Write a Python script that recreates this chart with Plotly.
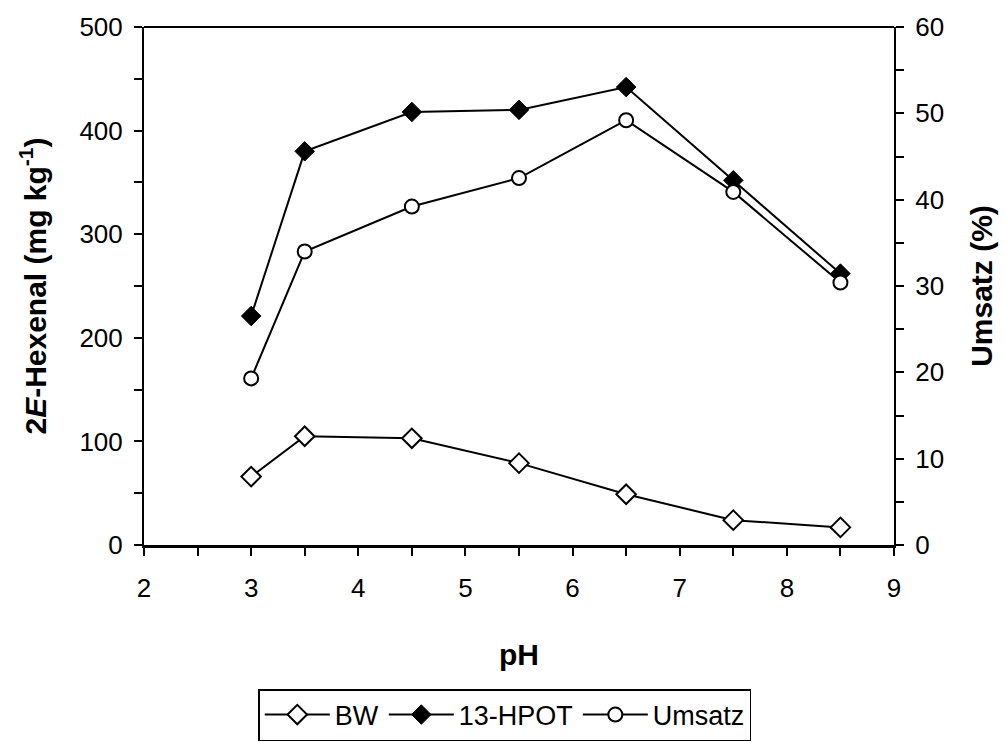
import plotly.graph_objects as go

ph = [3, 3.5, 4.5, 5.5, 6.5, 7.5, 8.5]
bw = [66, 105, 103, 79, 49, 24, 17]
hpot = [221, 380, 418, 420, 442, 352, 262]
umsatz = [19.3, 34.0, 39.2, 42.5, 49.2, 40.9, 30.4]

FONT = "Liberation Sans, Arial, sans-serif"

fig = go.Figure()
fig.add_trace(go.Scatter(
    x=ph, y=bw, name="BW", mode="lines+markers",
    line=dict(color="black", width=2),
    marker=dict(symbol="diamond", size=15, color="white", line=dict(color="black", width=2)),
))
fig.add_trace(go.Scatter(
    x=ph, y=hpot, name="13-HPOT", mode="lines+markers",
    line=dict(color="black", width=2),
    marker=dict(symbol="diamond", size=15, color="black", line=dict(color="black", width=1)),
))
fig.add_trace(go.Scatter(
    x=ph, y=umsatz, name="Umsatz", mode="lines+markers", yaxis="y2",
    line=dict(color="black", width=2),
    marker=dict(symbol="circle", size=14, color="white", line=dict(color="black", width=2)),
))

tickfont = dict(family=FONT, size=26, color="black")
titlefont = dict(family=FONT, size=30, color="black", weight="bold")

fig.update_layout(
    width=1005, height=742,
    margin=dict(l=144, r=108, t=27, b=197),
    paper_bgcolor="white", plot_bgcolor="white",
    showlegend=True,
    legend=dict(
        orientation="h", xref="container", yref="container",
        x=0.257, y=1 - 689 / 742, xanchor="left", yanchor="top",
        bordercolor="black", borderwidth=1.5, bgcolor="white",
        itemwidth=65,
        font=dict(family=FONT, size=27, color="black"),
    ),
    xaxis=dict(
        range=[2, 9], dtick=1, tick0=0, showgrid=False, zeroline=False,
        showline=True, linecolor="black", linewidth=3,
        ticks="outside", ticklen=8, tickwidth=2, tickcolor="black",
        minor=dict(dtick=0.5, ticks="outside", ticklen=8, tickwidth=2, tickcolor="black"),
        tickfont=tickfont, ticklabelstandoff=10,
        title=dict(text="pH", font=titlefont, standoff=42),
    ),
    yaxis=dict(
        range=[0, 500], dtick=100, showgrid=False, zeroline=False,
        showline=True, linecolor="black", linewidth=2,
        ticks="outside", ticklen=8, tickwidth=2, tickcolor="black",
        minor=dict(dtick=50, ticks="outside", ticklen=8, tickwidth=2, tickcolor="black"),
        tickfont=tickfont, ticklabelstandoff=6,
        title=dict(text="2<i>E</i>-Hexenal (mg kg<sup>-1</sup>)", font=titlefont, standoff=24),
    ),
    yaxis2=dict(
        range=[0, 60], dtick=10, overlaying="y", side="right",
        showgrid=False, zeroline=False,
        showline=True, linecolor="black", linewidth=2,
        ticks="outside", ticklen=8, tickwidth=2, tickcolor="black",
        minor=dict(dtick=5, ticks="outside", ticklen=8, tickwidth=2, tickcolor="black"),
        tickfont=tickfont, ticklabelstandoff=6,
        title=dict(text="Umsatz (%)", font=titlefont, standoff=28),
    ),
    shapes=[dict(type="line", xref="paper", yref="paper", x0=0, x1=1, y0=1, y1=1,
                 line=dict(color="black", width=2))],
)

fig.write_html("out.html")
